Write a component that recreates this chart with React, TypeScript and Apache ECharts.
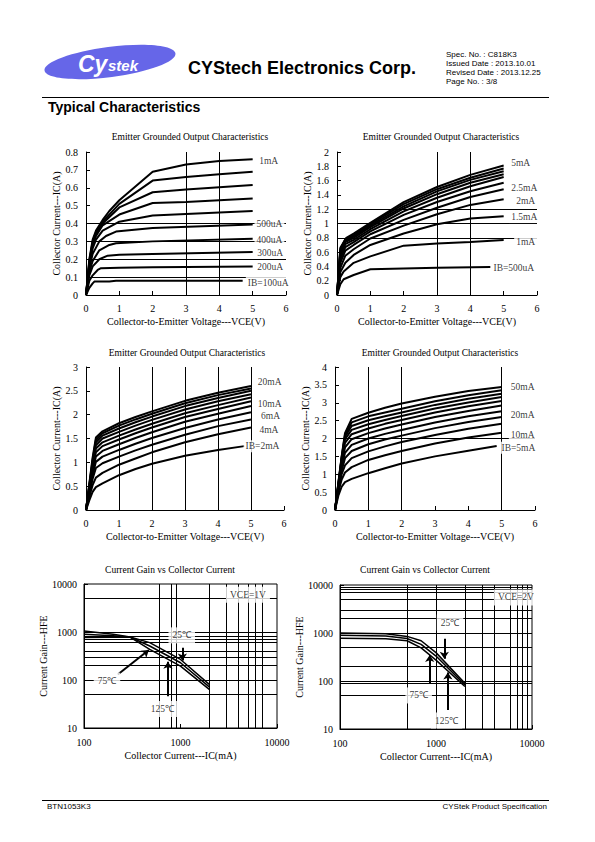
import React, { useEffect, useRef } from "react";
import * as echarts from "echarts";

const SERIF = '"Liberation Serif", "Times New Roman", serif';
const SANS = '"Liberation Sans", Arial, sans-serif';

// ---------- page texts ----------
const COMPANY = "CYStech Electronics Corp.";
const SPEC_LINES = ["Spec. No. : C818K3", "Issued Date : 2013.10.01", "Revised Date : 2013.12.25", "Page No. : 3/8"];
const SECTION = "Typical Characteristics";
const FOOT_LEFT = "BTN1053K3";
const FOOT_RIGHT = "CYStek Product Specification";

const OUT_TITLE = "Emitter Grounded Output Characteristics";
const GAIN_TITLE = "Current Gain vs Collector Current";
const VCE_NAME = "Collector-to-Emitter Voltage---VCE(V)";
const IC_NAME = "Collector Current---IC(A)";
const ICMA_NAME = "Collector Current---IC(mA)";
const HFE_NAME = "Current Gain---HFE";

// ---------- chart 1 : IB = 100uA ... 1mA  ([VCE(V), IC(A)]) ----------
const OUT1_CURVES: number[][][] = [
  [[0, 0], [0.1, 0.04], [0.2, 0.065], [0.25, 0.075], [0.7, 0.075], [0.9, 0.08], [4.7, 0.08]],
  [[0, 0], [0.1, 0.08], [0.2, 0.11], [0.35, 0.14], [0.45, 0.15], [1, 0.152], [2, 0.155], [5, 0.16]],
  [[0, 0], [0.1, 0.11], [0.2, 0.16], [0.4, 0.2], [0.65, 0.22], [1, 0.225], [2, 0.23], [5, 0.24]],
  [[0, 0], [0.1, 0.13], [0.2, 0.19], [0.4, 0.25], [0.7, 0.28], [0.9, 0.29], [2, 0.3], [5, 0.315]],
  [[0, 0], [0.1, 0.15], [0.2, 0.23], [0.4, 0.3], [0.6, 0.33], [0.9, 0.355], [2, 0.375], [5, 0.395]],
  [[0, 0], [0.1, 0.16], [0.2, 0.26], [0.3, 0.31], [0.5, 0.36], [1, 0.41], [2, 0.445], [5, 0.47]],
  [[0, 0], [0.1, 0.17], [0.2, 0.28], [0.3, 0.33], [0.5, 0.39], [1, 0.45], [2, 0.515], [3, 0.52], [5, 0.54]],
  [[0, 0], [0.1, 0.18], [0.2, 0.29], [0.3, 0.34], [0.5, 0.4], [1, 0.49], [2, 0.575], [3, 0.59], [5, 0.615]],
  [[0, 0], [0.1, 0.19], [0.2, 0.3], [0.3, 0.35], [0.5, 0.41], [1, 0.51], [2, 0.64], [3, 0.66], [4, 0.675], [5, 0.69]],
  [[0, 0], [0.1, 0.2], [0.2, 0.31], [0.3, 0.36], [0.5, 0.42], [0.7, 0.47], [1, 0.53], [2, 0.69], [3, 0.73], [4, 0.75], [5, 0.76]],
];
const OUT1_LABELS = [
  { t: "1mA", x: 5.12, y: 0.75 },
  { t: "500uA", x: 5.04, y: 0.4 },
  { t: "400uA", x: 5.04, y: 0.305 },
  { t: "300uA", x: 5.06, y: 0.235 },
  { t: "200uA", x: 5.06, y: 0.157 },
  { t: "IB=100uA", x: 4.78, y: 0.067 },
];
const OUT1_HLINES = [0.1, 0.2, 0.3, 0.4];
const OUT1_VLINES = [3, 4];

// ---------- chart 2 : IB = 500uA ... 5mA ----------
const OUT2_CURVES: number[][][] = [
  [[0, 0], [0.1, 0.15], [0.2, 0.22], [0.5, 0.28], [1, 0.36], [2, 0.37], [3, 0.38], [4.6, 0.39]],
  [[0, 0], [0.1, 0.25], [0.2, 0.33], [0.5, 0.45], [1, 0.54], [2, 0.69], [3, 0.72], [4, 0.74], [5, 0.77]],
  [[0, 0], [0.1, 0.32], [0.25, 0.45], [0.5, 0.56], [1, 0.7], [2, 0.86], [3, 0.99], [4, 1.07], [5, 1.1]],
  [[0, 0], [0.1, 0.38], [0.25, 0.55], [0.5, 0.64], [1, 0.79], [2, 0.97], [3, 1.13], [4, 1.26], [5, 1.34]],
  [[0, 0], [0.1, 0.45], [0.25, 0.62], [0.5, 0.7], [1, 0.85], [2, 1.05], [3, 1.22], [4, 1.37], [5, 1.48]],
  [[0, 0], [0.1, 0.5], [0.25, 0.67], [0.5, 0.74], [1, 0.89], [2, 1.12], [3, 1.3], [4, 1.45], [5, 1.57]],
  [[0, 0], [0.1, 0.55], [0.25, 0.71], [0.5, 0.77], [1, 0.92], [2, 1.17], [3, 1.36], [4, 1.52], [5, 1.65]],
  [[0, 0], [0.1, 0.6], [0.25, 0.74], [0.5, 0.8], [1, 0.95], [2, 1.21], [3, 1.41], [4, 1.57], [5, 1.69]],
  [[0, 0], [0.1, 0.62], [0.25, 0.76], [0.5, 0.82], [1, 0.97], [2, 1.24], [3, 1.45], [4, 1.61], [5, 1.73]],
  [[0, 0], [0.1, 0.64], [0.25, 0.78], [0.5, 0.84], [1, 0.99], [2, 1.27], [3, 1.48], [4, 1.64], [5, 1.77]],
  [[0, 0], [0.1, 0.66], [0.28, 0.8], [0.5, 0.86], [1, 1.01], [2, 1.3], [3, 1.51], [4, 1.68], [5, 1.81]],
];
const OUT2_LABELS = [
  { t: "5mA", x: 5.15, y: 1.85 },
  { t: "2.5mA", x: 5.15, y: 1.5 },
  { t: "2mA", x: 5.3, y: 1.32 },
  { t: "1.5mA", x: 5.15, y: 1.09 },
  { t: "1mA", x: 5.3, y: 0.74 },
  { t: "IB=500uA", x: 4.62, y: 0.38 },
];
const OUT2_HLINES = [0.8, 1.0, 1.2];
const OUT2_VLINES = [3, 4];

// ---------- chart 3 : IB = 2mA ... 20mA ----------
const OUT3_CURVES: number[][][] = [
  [[0, 0], [0.1, 0.2], [0.2, 0.38], [0.3, 0.48], [0.5, 0.56], [1, 0.73], [1.5, 0.86], [2, 0.97], [3, 1.14], [4, 1.26], [4.8, 1.34]],
  [[0, 0], [0.1, 0.28], [0.2, 0.52], [0.3, 0.68], [0.5, 0.78], [1, 0.95], [1.5, 1.08], [2, 1.21], [3, 1.42], [4, 1.59], [5, 1.73]],
  [[0, 0], [0.1, 0.33], [0.2, 0.65], [0.3, 0.88], [0.5, 0.98], [1, 1.12], [1.5, 1.25], [2, 1.37], [3, 1.58], [4, 1.76], [5, 1.9]],
  [[0, 0], [0.1, 0.37], [0.2, 0.73], [0.3, 1.01], [0.5, 1.12], [1, 1.26], [1.5, 1.39], [2, 1.51], [3, 1.72], [4, 1.9], [5, 2.05]],
  [[0, 0], [0.1, 0.4], [0.2, 0.8], [0.3, 1.12], [0.5, 1.24], [1, 1.38], [1.5, 1.51], [2, 1.63], [3, 1.85], [4, 2.02], [5, 2.18]],
  [[0, 0], [0.1, 0.43], [0.2, 0.85], [0.3, 1.21], [0.5, 1.34], [1, 1.48], [1.5, 1.61], [2, 1.73], [3, 1.95], [4, 2.12], [5, 2.28]],
  [[0, 0], [0.1, 0.45], [0.2, 0.9], [0.3, 1.29], [0.5, 1.42], [1, 1.56], [1.5, 1.69], [2, 1.81], [3, 2.03], [4, 2.2], [5, 2.36]],
  [[0, 0], [0.1, 0.48], [0.2, 0.95], [0.3, 1.36], [0.5, 1.5], [1, 1.64], [1.5, 1.77], [2, 1.89], [3, 2.11], [4, 2.28], [5, 2.43]],
  [[0, 0], [0.1, 0.5], [0.2, 1.0], [0.3, 1.42], [0.5, 1.56], [1, 1.71], [1.5, 1.84], [2, 1.96], [3, 2.18], [4, 2.35], [5, 2.5]],
  [[0, 0], [0.1, 0.52], [0.2, 1.05], [0.3, 1.47], [0.5, 1.61], [1, 1.77], [1.5, 1.9], [2, 2.02], [3, 2.24], [4, 2.41], [5, 2.55]],
  [[0, 0], [0.1, 0.55], [0.2, 1.1], [0.3, 1.52], [0.5, 1.65], [1, 1.82], [1.5, 1.95], [2, 2.07], [3, 2.29], [4, 2.46], [5, 2.6]],
];
const OUT3_LABELS = [
  { t: "20mA", x: 5.13, y: 2.69 },
  { t: "10mA", x: 5.13, y: 2.23 },
  { t: "6mA", x: 5.23, y: 1.97 },
  { t: "4mA", x: 5.18, y: 1.67 },
  { t: "IB=2mA", x: 4.76, y: 1.34 },
];
const OUT3_HLINES: number[] = [];
const OUT3_VLINES = [1, 2, 3, 4, 5];

// ---------- chart 4 : IB = 5mA ... 50mA ----------
const OUT4_CURVES: number[][][] = [
  [[0, 0], [0.1, 0.4], [0.2, 0.65], [0.3, 0.78], [0.5, 0.87], [1, 1.03], [1.5, 1.17], [2, 1.3], [3, 1.5], [4, 1.66], [4.85, 1.79]],
  [[0, 0], [0.1, 0.5], [0.2, 0.85], [0.3, 1.05], [0.5, 1.2], [1, 1.4], [1.5, 1.53], [2, 1.65], [3, 1.86], [4, 2.03], [5, 2.16]],
  [[0, 0], [0.1, 0.55], [0.2, 1.0], [0.3, 1.25], [0.5, 1.45], [1, 1.64], [1.5, 1.78], [2, 1.9], [3, 2.1], [4, 2.27], [5, 2.41]],
  [[0, 0], [0.1, 0.6], [0.2, 1.1], [0.3, 1.45], [0.5, 1.65], [1, 1.84], [1.5, 1.97], [2, 2.08], [3, 2.29], [4, 2.46], [5, 2.6]],
  [[0, 0], [0.1, 0.62], [0.2, 1.2], [0.3, 1.6], [0.5, 1.82], [1, 2.0], [1.5, 2.13], [2, 2.24], [3, 2.45], [4, 2.62], [5, 2.76]],
  [[0, 0], [0.1, 0.65], [0.2, 1.28], [0.3, 1.75], [0.5, 1.98], [1, 2.15], [1.5, 2.28], [2, 2.39], [3, 2.6], [4, 2.77], [5, 2.92]],
  [[0, 0], [0.1, 0.68], [0.2, 1.35], [0.3, 1.88], [0.5, 2.12], [1, 2.28], [1.5, 2.41], [2, 2.52], [3, 2.73], [4, 2.9], [5, 3.05]],
  [[0, 0], [0.1, 0.7], [0.2, 1.4], [0.3, 1.98], [0.5, 2.24], [1, 2.4], [1.5, 2.52], [2, 2.63], [3, 2.84], [4, 3.01], [5, 3.16]],
  [[0, 0], [0.1, 0.72], [0.2, 1.45], [0.3, 2.05], [0.5, 2.35], [1, 2.51], [1.5, 2.62], [2, 2.73], [3, 2.94], [4, 3.11], [5, 3.25]],
  [[0, 0], [0.1, 0.74], [0.2, 1.48], [0.3, 2.1], [0.5, 2.45], [1, 2.62], [1.5, 2.73], [2, 2.83], [3, 3.04], [4, 3.21], [5, 3.35]],
  [[0, 0], [0.1, 0.76], [0.2, 1.5], [0.3, 2.15], [0.5, 2.55], [1, 2.72], [1.5, 2.86], [2, 2.98], [3, 3.17], [4, 3.33], [5, 3.44]],
];
const OUT4_LABELS = [
  { t: "50mA", x: 5.2, y: 3.44 },
  { t: "20mA", x: 5.2, y: 2.66 },
  { t: "10mA", x: 5.2, y: 2.11 },
  { t: "IB=5mA", x: 4.92, y: 1.74 },
];
const OUT4_HLINES = [2];
const OUT4_VLINES = [1, 2, 5];

// ---------- chart 5 : hFE vs IC, VCE = 1V  ([IC(mA), hFE]) ----------
const GAIN1_CURVES: number[][][] = [
  [[100, 770], [200, 780], [300, 786], [480, 600], [1000, 268], [2000, 80]],
  [[100, 900], [200, 840], [300, 786], [480, 511], [1000, 229], [2000, 71]],
  [[100, 1050], [200, 900], [300, 786], [480, 434], [1000, 195], [2000, 63]],
];
const GAIN1_LABELS = [
  { t: "VCE=1V", x: 5000, y: 6000 },
  { t: "25℃", x: 1030, y: 850 },
  { t: "75℃", x: 173, y: 97 },
  { t: "125℃", x: 650, y: 25 },
];
const GAIN1_ARROWS = [
  { x1: 1045, y1: 470, x2: 1045, y2: 255 },
  { x1: 741, y1: 46, x2: 741, y2: 240 },
  { x1: 224, y1: 130, x2: 470, y2: 420 },
];
const GAIN1_HLINES = [50, 100, 200, 300, 400, 600, 700, 800, 1000, 5000];
const GAIN1_VLINES = [600, 800, 900, 2000, 3000, 4000, 5000, 6000, 7000];

// ---------- chart 6 : hFE vs IC, VCE = 2V ----------
const GAIN2_CURVES: number[][][] = [
  [[100, 1000], [300, 960], [500, 850], [700, 690], [1000, 390], [2000, 90]],
  [[100, 900], [300, 870], [500, 770], [700, 580], [1000, 331], [2000, 83]],
  [[100, 780], [300, 760], [500, 690], [700, 490], [1000, 272], [2000, 77]],
];
const GAIN2_LABELS = [
  { t: "VCE=2V", x: 6800, y: 5500 },
  { t: "25℃", x: 1400, y: 1650 },
  { t: "75℃", x: 660, y: 50 },
  { t: "125℃", x: 1290, y: 15 },
];
const GAIN2_ARROWS = [
  { x1: 1220, y1: 760, x2: 1220, y2: 290 },
  { x1: 860, y1: 90, x2: 860, y2: 350 },
  { x1: 1330, y1: 25, x2: 1330, y2: 150 },
];
const GAIN2_HLINES = [50, 90, 100, 200, 500, 1000, 2000, 3000, 5000, 7000, 8000, 9000];
const GAIN2_VLINES = [500, 1000, 2000, 3000, 4000, 6000, 7000, 8000, 9000];

// ---------- axes ranges ----------
const VCE_MAX = 6;
const OUT_YMAX = [0.8, 2, 3, 4];
const OUT_YSTEP = [0.1, 0.2, 0.5, 0.5];
const IC_MIN = 100, IC_MAX = 10000, HFE_MIN = 10, HFE_MAX = 10000;

// ---------- layout ----------
const GRIDS = [
  { left: 86, top: 152, width: 200, height: 143 },
  { left: 337, top: 152, width: 200, height: 143 },
  { left: 86, top: 367, width: 198, height: 143 },
  { left: 335, top: 367, width: 200, height: 143 },
  { left: 84, top: 584, width: 193, height: 144 },
  { left: 340, top: 585, width: 192, height: 144 },
];
const TITLE_POS = [[190, 137], [441, 137], [187, 353], [440, 353], [170, 570], [425, 570]];

const BLACK = "#000";
const txt = { color: BLACK, fontFamily: SERIF, fontSize: 10, fontWeight: "normal" };

function gridLines(h: number[], v: number[]) {
  return {
    silent: true,
    symbol: "none",
    label: { show: false },
    emphasis: { disabled: true },
    lineStyle: { color: BLACK, width: 1, type: "solid" },
    data: [...h.map((y) => ({ yAxis: y })), ...v.map((x) => ({ xAxis: x }))],
  };
}

function labelSeries(i: number, labels: { t: string; x: number; y: number }[], pos: string, pad: number[], arrows?: { x1: number; y1: number; x2: number; y2: number }[]) {
  const s: any = {
    type: "scatter",
    xAxisIndex: i,
    yAxisIndex: i,
    symbolSize: 1,
    itemStyle: { color: "rgba(0,0,0,0)" },
    z: 10,
    silent: true,
    data: labels.map((l) => ({ value: [l.x, l.y], name: l.t })),
    label: {
      show: true,
      formatter: "{b}",
      position: pos,
      distance: 0,
      ...txt,
      fontSize: 9.5,
      backgroundColor: "#fff",
      padding: pad,
    },
  };
  if (arrows) {
    s.markLine = {
      silent: true,
      symbol: ["none", "arrow"],
      symbolSize: 7,
      label: { show: false },
      emphasis: { disabled: true },
      lineStyle: { color: BLACK, width: 2, type: "solid" },
      data: arrows.map((a) => [{ coord: [a.x1, a.y1] }, { coord: [a.x2, a.y2] }]),
    };
  }
  return s;
}

function curveSeries(i: number, curves: number[][][], width: number, h: number[], v: number[]) {
  return curves.map((c, k) => {
    const s: any = {
      type: "line",
      xAxisIndex: i,
      yAxisIndex: i,
      data: c,
      symbol: "none",
      silent: true,
      lineStyle: { color: BLACK, width },
      z: 3,
    };
    if (k === 0) s.markLine = gridLines(h, v);
    return s;
  });
}

function buildOption() {
  const axisBase = {
    axisLine: { show: true, onZero: false, lineStyle: { color: BLACK, width: 1 } },
    axisTick: { show: true, inside: true, length: 4, lineStyle: { color: BLACK } },
    splitLine: { show: false },
    nameLocation: "middle",
    nameTextStyle: { ...txt },
  };
  const xAxis: any[] = [];
  const yAxis: any[] = [];
  for (let i = 0; i < 4; i++) {
    xAxis.push({
      ...axisBase,
      gridIndex: i,
      type: "value",
      min: 0,
      max: VCE_MAX,
      interval: 1,
      axisLabel: { ...txt, margin: 8 },
      name: VCE_NAME,
      nameGap: 21,
    });
    yAxis.push({
      ...axisBase,
      gridIndex: i,
      type: "value",
      min: 0,
      max: OUT_YMAX[i],
      interval: OUT_YSTEP[i],
      axisLabel: { ...txt, margin: 8 },
      name: IC_NAME,
      nameGap: 23,
    });
  }
  for (let i = 4; i < 6; i++) {
    xAxis.push({
      ...axisBase,
      gridIndex: i,
      type: "log",
      logBase: 10,
      min: IC_MIN,
      max: IC_MAX,
      axisLabel: { ...txt, margin: 9, formatter: (v: number) => String(v) },
      name: ICMA_NAME,
      nameGap: 22,
    });
    yAxis.push({
      ...axisBase,
      gridIndex: i,
      type: "log",
      logBase: 10,
      min: HFE_MIN,
      max: HFE_MAX,
      axisLabel: { ...txt, margin: 7, formatter: (v: number) => String(v) },
      name: HFE_NAME,
      nameGap: 28,
    });
  }

  const series: any[] = [
    ...curveSeries(0, OUT1_CURVES, 2, OUT1_HLINES, OUT1_VLINES),
    labelSeries(0, OUT1_LABELS, "right", [1, 2]),
    ...curveSeries(1, OUT2_CURVES, 2, OUT2_HLINES, OUT2_VLINES),
    labelSeries(1, OUT2_LABELS, "right", [1, 2]),
    ...curveSeries(2, OUT3_CURVES, 2, OUT3_HLINES, OUT3_VLINES),
    labelSeries(2, OUT3_LABELS, "right", [1, 2]),
    ...curveSeries(3, OUT4_CURVES, 2, OUT4_HLINES, OUT4_VLINES),
    labelSeries(3, OUT4_LABELS, "right", [1, 2]),
    ...curveSeries(4, GAIN1_CURVES, 1.5, GAIN1_HLINES, GAIN1_VLINES),
    labelSeries(4, GAIN1_LABELS, "inside", [3, 4], GAIN1_ARROWS),
    ...curveSeries(5, GAIN2_CURVES, 1.5, GAIN2_HLINES, GAIN2_VLINES),
    labelSeries(5, GAIN2_LABELS, "inside", [3, 4], GAIN2_ARROWS),
  ];

  const titles = [OUT_TITLE, OUT_TITLE, OUT_TITLE, OUT_TITLE, GAIN_TITLE, GAIN_TITLE];

  const graphic: any[] = [
    // logo
    {
      type: "ellipse",
      shape: { cx: 0, cy: 0, rx: 66, ry: 15 },
      x: 110,
      y: 62,
      rotation: 0.13,
      style: { fill: "#6666e8" },
    },
    {
      type: "text",
      x: 78,
      y: 64,
      style: { text: "Cy", fill: "#fff", font: 'italic bold 23px "Liberation Sans"', textAlign: "left", textVerticalAlign: "middle" },
    },
    {
      type: "text",
      x: 108,
      y: 65,
      style: { text: "stek", fill: "#fff", font: 'italic bold 15px "Liberation Sans"', textAlign: "left", textVerticalAlign: "middle" },
    },
    {
      type: "text",
      x: 188,
      y: 68,
      style: { text: COMPANY, fill: BLACK, font: `bold 18px ${SANS}`, textAlign: "left", textVerticalAlign: "middle" },
    },
    ...SPEC_LINES.map((t, k) => ({
      type: "text",
      x: 446,
      y: 54 + k * 9,
      style: { text: t, fill: BLACK, font: `8px ${SANS}`, textAlign: "left", textVerticalAlign: "middle" },
    })),
    { type: "line", shape: { x1: 42, y1: 97.5, x2: 549, y2: 97.5 }, style: { stroke: BLACK, lineWidth: 1 } },
    {
      type: "text",
      x: 48,
      y: 107,
      style: { text: SECTION, fill: BLACK, font: `bold 14px ${SANS}`, textAlign: "left", textVerticalAlign: "middle" },
    },
    ...titles.map((t, k) => ({
      type: "text",
      x: TITLE_POS[k][0],
      y: TITLE_POS[k][1],
      style: { text: t, fill: BLACK, font: `9.5px ${SERIF}`, textAlign: "center", textVerticalAlign: "middle" },
    })),
    { type: "line", shape: { x1: 42, y1: 800.5, x2: 549, y2: 800.5 }, style: { stroke: BLACK, lineWidth: 1 } },
    {
      type: "text",
      x: 47,
      y: 806,
      style: { text: FOOT_LEFT, fill: BLACK, font: `8px ${SANS}`, textAlign: "left", textVerticalAlign: "middle" },
    },
    {
      type: "text",
      x: 547,
      y: 806,
      style: { text: FOOT_RIGHT, fill: BLACK, font: `8px ${SANS}`, textAlign: "right", textVerticalAlign: "middle" },
    },
  ];

  return {
    animation: false,
    backgroundColor: "#fff",
    grid: GRIDS.map((g, i) => ({
      ...g,
      containLabel: false,
      show: i >= 4,
      borderColor: BLACK,
      borderWidth: 1,
      backgroundColor: "transparent",
    })),
    xAxis,
    yAxis,
    series,
    graphic,
  };
}

export default function App() {
  const ref = useRef<HTMLDivElement>(null);
  useEffect(() => {
    if (!ref.current) return;
    const chart = echarts.init(ref.current, undefined, { renderer: "svg", width: 595, height: 842 });
    chart.setOption(buildOption() as any);
    return () => chart.dispose();
  }, []);
  return (
    <div
      ref={ref}
      style={{ position: "absolute", left: 0, top: 0, width: 595, height: 842, background: "#fff" }}
    />
  );
}
